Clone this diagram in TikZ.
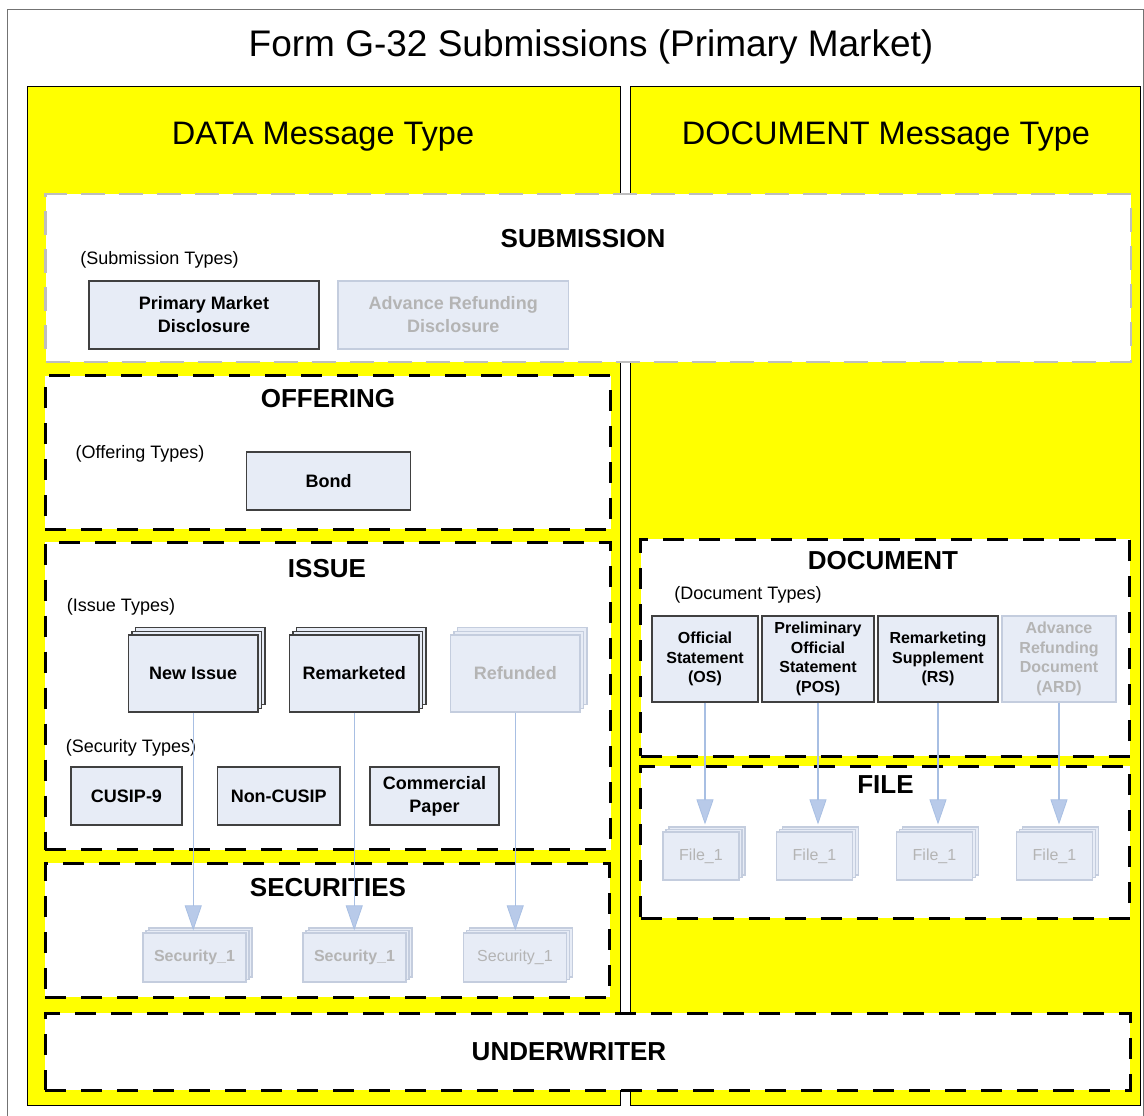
\documentclass[tikz,border=0pt]{standalone}
\usepackage{fontspec}
\setmainfont{Liberation Sans}
\usetikzlibrary{arrows.meta,shadows}

\definecolor{panelyellow}{RGB}{255,255,0}
\definecolor{boxfill}{RGB}{231,236,246}
\definecolor{fadeline}{RGB}{196,205,222}
\definecolor{fadetext}{RGB}{180,180,180}
\definecolor{linkblue}{RGB}{168,191,227}
\definecolor{headblue}{RGB}{184,202,233}
\definecolor{subline}{RGB}{190,190,190}

\tikzset{
  panel/.style={draw=black, line width=0.8pt, fill=panelyellow, inner sep=0pt},
  area/.style={draw=black, line width=3pt, dash pattern=on 21pt off 15pt, fill=white, inner sep=0pt},
  typebox/.style={draw=black!75, line width=1.2pt, fill=boxfill, inner sep=0pt, align=center,
    font=\bfseries\fontsize{18}{23}\selectfont},
  docbox/.style={typebox, font=\bfseries\fontsize{16}{19.5}\selectfont},
  faded/.style={draw=fadeline, text=fadetext},
  stack/.style={copy shadow={shadow xshift=7pt, shadow yshift=7.5pt, fill=boxfill, draw=#1},
    copy shadow={shadow xshift=3.5pt, shadow yshift=3.75pt, fill=boxfill, draw=#1}},
  stack/.default=black!75,
  smallstack/.style={copy shadow={shadow xshift=6pt, shadow yshift=5pt, fill=boxfill, draw=fadeline},
    copy shadow={shadow xshift=3pt, shadow yshift=2.5pt, fill=boxfill, draw=fadeline}},
  hdr/.style={font=\bfseries\fontsize{26}{30}\selectfont},
  note/.style={font=\fontsize{18}{21}\selectfont},
  link/.style={draw=linkblue, line width=1.4pt,
    -{Triangle[length=25pt, width=17pt, fill=headblue, line width=0.8pt]}}
}

\begin{document}
\begin{tikzpicture}[x=1pt, y=-1pt]
\useasboundingbox (0,0) rectangle (1144,1116);
\draw[black!55, line width=0.8pt] (7,9) rectangle (1143.5,1125);
\node[font=\fontsize{37}{41}\selectfont] (title) at (591,47) {Form G-32 Submissions (Primary Market)};

\node[panel, minimum width=593.5pt, minimum height=1019pt] (data) at (323.75,595.5) {};
\node[panel, minimum width=509.5pt, minimum height=1019pt] (docs) at (885.25,595.5) {};
\node[font=\fontsize{32.5}{36}\selectfont] (dataT) at (323,137) {DATA Message Type};
\node[font=\fontsize{32.5}{36}\selectfont] (docsT) at (886,137) {DOCUMENT Message Type};

% submission
\node[area, draw=subline, line width=2.5pt, dash pattern=on 24pt off 14pt,
  minimum width=1085.5pt, minimum height=168pt] (sub) at (588.25,278) {};
\node[hdr] (subT) at (583,239) {SUBMISSION};
\node[note] (subN) at (159.5,260) {(Submission Types)};
\node[typebox, minimum width=230pt, minimum height=68pt] (pmd) at (204,315) {Primary Market\\Disclosure};
\node[typebox, faded, minimum width=230.5pt, minimum height=68pt] (ard0) at (453.25,315) {Advance Refunding\\Disclosure};

% offering
\node[area, minimum width=565.5pt, minimum height=153.5pt] (off) at (327.75,452.25) {};
\node[hdr] (offT) at (328,399) {OFFERING};
\node[note] (offN) at (140,454) {(Offering Types)};
\node[typebox, minimum width=164pt, minimum height=58pt] (bond) at (328.5,481) {Bond};

% issue
\node[area, minimum width=565.5pt, minimum height=307.5pt] (iss) at (327.75,695.75) {};
\node[hdr] (issT) at (327,569) {ISSUE};
\node[note] (issN) at (121,607) {(Issue Types)};
\node[typebox, stack, minimum width=129.5pt, minimum height=77pt] (ni) at (193.25,673.5) {New Issue};
\node[typebox, stack, minimum width=129.5pt, minimum height=77pt] (rm) at (354.25,673.5) {Remarketed};
\node[typebox, faded, stack=fadeline, minimum width=129.5pt, minimum height=77pt] (rf) at (515.25,673.5) {Refunded};
\node[note] (secN) at (131,748) {(Security Types)};
\node[typebox, minimum width=111pt, minimum height=58pt] (cusip) at (126.5,796) {CUSIP-9};
\node[typebox, minimum width=122.5pt, minimum height=58pt] (ncusip) at (278.75,796) {Non-CUSIP};
\node[typebox, minimum width=129pt, minimum height=58pt] (cp) at (434.5,796) {Commercial\\Paper};

% securities
\node[area, minimum width=564.5pt, minimum height=134pt] (secs) at (327.25,930) {};
\node[hdr] (secsT) at (328,888) {SECURITIES};
\node[typebox, faded, smallstack, font=\bfseries\fontsize{16}{19}\selectfont,
  minimum width=103pt, minimum height=49pt] (s1) at (194.5,957.5) {Security\_1};
\node[typebox, faded, smallstack, font=\bfseries\fontsize{16}{19}\selectfont,
  minimum width=103pt, minimum height=49pt] (s2) at (354.5,957.5) {Security\_1};
\node[typebox, faded, smallstack, font=\fontsize{16}{19}\selectfont,
  minimum width=103pt, minimum height=49pt] (s3) at (515,957.5) {Security\_1};

% document
\node[area, minimum width=489pt, minimum height=217pt] (doc) at (885,647.5) {};
\node[hdr] (docT) at (883,561) {DOCUMENT};
\node[note] (docN) at (748,595) {(Document Types)};
\node[docbox, minimum width=106pt, minimum height=86pt] (os) at (705,659) {Official\\Statement\\(OS)};
\node[docbox, minimum width=112pt, minimum height=86pt] (pos) at (818,659) {Preliminary\\Official\\Statement\\(POS)};
\node[docbox, minimum width=120pt, minimum height=86pt] (rs) at (938,659) {Remarketing\\Supplement\\(RS)};
\node[docbox, faded, minimum width=114pt, minimum height=86pt] (ard) at (1059,659) {Advance\\Refunding\\Document\\(ARD)};

% file
\node[area, minimum width=489pt, minimum height=152pt] (fil) at (885,842) {};
\node[hdr] (filT) at (885.5,785) {FILE};
\foreach \n/\x in {f1/701, f2/814.5, f3/934.5, f4/1054.5}
  \node[typebox, faded, smallstack, font=\fontsize{16}{19}\selectfont,
    minimum width=76pt, minimum height=48pt] (\n) at (\x,856) {File\_1};

% underwriter
\node[area, minimum width=1085pt, minimum height=77pt] (uw) at (587.5,1051.5) {};
\node[hdr] (uwT) at (569,1052) {UNDERWRITER};

\foreach \a/\b in {ni/s1, rm/s2, rf/s3}
  \draw[link, shorten >=2pt] (\a.south) -- (\a.south |- \b.north);
\foreach \a/\b in {os/f1, pos/f2, rs/f3, ard/f4}
  \draw[link, shorten >=7pt] (\a.south) -- (\a.south |- \b.north);
\end{tikzpicture}
\end{document}
